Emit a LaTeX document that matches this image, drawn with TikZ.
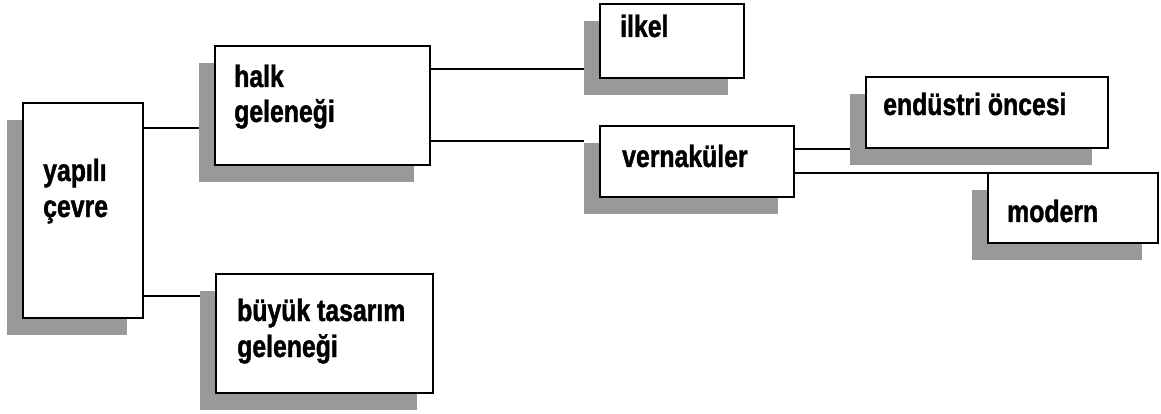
\documentclass[tikz,border=0pt]{standalone}
\usepackage{fontspec}
\setmainfont{Liberation Sans}[FakeStretch=0.8, BoldFeatures={FakeBold=1.3}]
\tikzset{
  shadowbox/.style={fill=black!40, draw=none, inner sep=0pt, outer sep=0pt},
  mainbox/.style={draw=black, fill=white, line width=1.6pt, inner sep=0pt, outer sep=0pt},
  boxtext/.style={anchor=base west, inner sep=0pt, font=\fontsize{31}{36}\selectfont\bfseries},
  conn/.style={draw=black, line width=1.4pt}
}
% #1 name, #2 x1, #3 y1, #4 x2, #5 y2
\newcommand{\placebox}[5]{%
  \node[shadowbox, minimum width={#4-#2}, minimum height={#5-#3}] (#1-s) at ({(#2+#4)/2-16},{(#3+#5)/2+17}) {};
  \node[mainbox, minimum width={#4-#2}, minimum height={#5-#3}] (#1) at ({(#2+#4)/2},{(#3+#5)/2}) {};
}
\begin{document}
\begin{tikzpicture}[x=1pt,y=-1pt]
\useasboundingbox (0,0) rectangle (1161,414);
\fill[white] (0,0) rectangle (1161,414);

\placebox{yap}{23}{103}{143}{318}
\placebox{halk}{215}{46}{430}{165}
\placebox{buyuk}{216}{274}{433}{393}
\placebox{ilkel}{600}{4}{744}{78}
\placebox{vern}{600}{126}{794}{197}
\placebox{endu}{866}{77}{1108}{148}
\placebox{modern}{988}{173}{1158}{243}

\node[boxtext] (t-yap1) at (43,181) {yapılı};
\node[boxtext] (t-yap2) at (43,217) {çevre};
\node[boxtext] (t-halk1) at (234,87) {halk};
\node[boxtext] (t-halk2) at (234,122) {geleneği};
\node[boxtext] (t-buy1) at (237,321) {büyük tasarım};
\node[boxtext] (t-buy2) at (237,357) {geleneği};
\node[boxtext] (t-ilkel) at (620,37) {ilkel};
\node[boxtext] (t-vern) at (622,167) {vernaküler};
\node[boxtext] (t-endu) at (883,115) {endüstri öncesi};
\node[boxtext] (t-mod) at (1007,222) {modern};

\draw[conn] (yap.east |- 0,128) -- (halk-s.west |- 0,128);
\draw[conn] (yap.east |- 0,296) -- (buyuk-s.west |- 0,296);
\draw[conn] (halk.east |- 0,69) -- (ilkel-s.west |- 0,69);
\draw[conn] (halk.east |- 0,141) -- (vern-s.west |- 0,141);
\draw[conn] (vern.east |- 0,149) -- (endu-s.west |- 0,149);
\draw[conn] (vern.east |- 0,173) -- (modern.north west);
\end{tikzpicture}
\end{document}
